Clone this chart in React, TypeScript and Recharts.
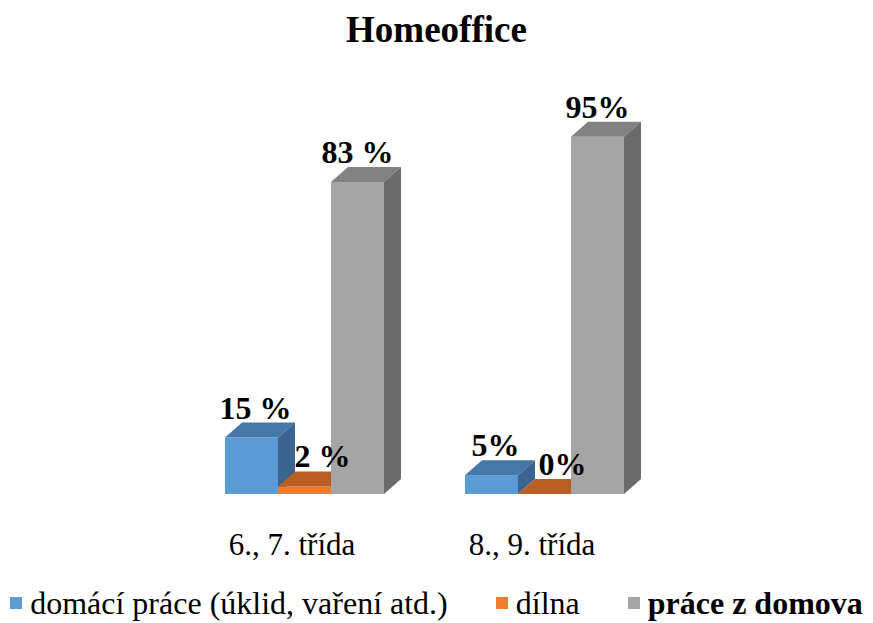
import React from 'react';
import { BarChart, Bar, XAxis, YAxis, Legend, LabelList } from 'recharts';

// values
const CATEGORIES = ['6., 7. třída', '8., 9. třída'];
const DOMACI_PRACE = [15, 5];
const DILNA = [2, 0];
const PRACE_Z_DOMOVA = [83, 95];
// the labels are not formatted the same in both groups, so keep them as text
const DOMACI_PRACE_LABELS = ['15 %', '5%'];
const DILNA_LABELS = ['2 %', '0%'];
const PRACE_Z_DOMOVA_LABELS = ['83 %', '95%'];

const SERIES = [
  { key: 'domaci', label: 'domaciLabel', name: 'domácí práce (úklid, vaření atd.)', front: '#5B9BD5', top: '#4677A9', side: '#3A6591', bold: false, shift: 4 },
  { key: 'dilna', label: 'dilnaLabel', name: 'dílna', front: '#ED7D31', top: '#BA5F24', side: '#A4531F', bold: false, shift: 18 },
  { key: 'domova', label: 'domovaLabel', name: 'práce z domova', front: '#A5A5A5', top: '#828282', side: '#6B6B6B', bold: true, shift: 0 },
];

const data = CATEGORIES.map((name, i) => ({
  name,
  domaci: DOMACI_PRACE[i],
  dilna: DILNA[i],
  domova: PRACE_Z_DOMOVA[i],
  domaciLabel: DOMACI_PRACE_LABELS[i],
  dilnaLabel: DILNA_LABELS[i],
  domovaLabel: PRACE_Z_DOMOVA_LABELS[i],
}));

const FONT = '"Liberation Serif", "Times New Roman", serif';
const DX = 17;
const DY = 15;

const box3d = (front: string, top: string, side: string) => (props: any) => {
  const { x, y, width, height } = props;
  if (x == null || y == null) return null;
  const h = Math.max(height || 0, 0);
  return (
    <g>
      <rect x={x} y={y} width={width} height={h} fill={front} />
      <polygon
        points={`${x},${y} ${x + DX},${y - DY} ${x + width + DX},${y - DY} ${x + width},${y}`}
        fill={top}
      />
      <polygon
        points={`${x + width},${y} ${x + width + DX},${y - DY} ${x + width + DX},${y + h - DY} ${x + width},${y + h}`}
        fill={side}
      />
    </g>
  );
};

const barLabel = (shift: number) => (props: any) => {
  const { x, y, width, value } = props;
  return (
    <text
      x={x + width / 2 + shift}
      y={y - 19}
      textAnchor="middle"
      fontFamily={FONT}
      fontWeight="bold"
      fontSize={32}
      fill="#000"
    >
      {value}
    </text>
  );
};

const CategoryTick = (props: any) => {
  const { x, y, payload } = props;
  return (
    <text x={x - 13} y={y} dy={53} textAnchor="middle" fontFamily={FONT} fontSize={31} fill="#000">
      {payload.value}
    </text>
  );
};

const renderLegend = () => (
  <div
    style={{
      display: 'flex',
      justifyContent: 'center',
      alignItems: 'center',
      fontFamily: FONT,
      fontSize: 32,
      lineHeight: '34px',
      color: '#000',
      height: 34,
    }}
  >
    {SERIES.map((s, i) => (
      <div key={s.key} style={{ display: 'flex', alignItems: 'center', marginLeft: i === 0 ? 0 : 48 }}>
        <span style={{ display: 'inline-block', width: 12, height: 12, background: s.front, marginRight: 8 }} />
        <span style={{ fontWeight: s.bold ? 700 : 400, whiteSpace: 'nowrap' }}>{s.name}</span>
      </div>
    ))}
  </div>
);

export default function App() {
  return (
    <div style={{ position: 'absolute', left: 0, top: 0, width: 873, height: 623, background: '#fff' }}>
      <div
        style={{
          position: 'absolute',
          top: 11,
          left: 0,
          width: 873,
          textAlign: 'center',
          fontFamily: FONT,
          fontWeight: 'bold',
          fontSize: 37,
          lineHeight: '37px',
        }}
      >
        Homeoffice
      </div>
      <BarChart
        width={873}
        height={623}
        data={data}
        margin={{ top: 118, right: 208, bottom: 35, left: 185 }}
        barCategoryGap={40}
        barGap={0}
      >
        <XAxis dataKey="name" axisLine={false} tickLine={false} height={60} tick={<CategoryTick />} interval={0} />
        <YAxis hide domain={[0, 100]} />
        <Legend
          verticalAlign="bottom"
          content={renderLegend}
          wrapperStyle={{ left: 0, top: 586, width: 873 }}
        />
        {SERIES.map((s) => (
          <Bar
            key={s.key}
            dataKey={s.key}
            name={s.name}
            fill={s.front}
            shape={box3d(s.front, s.top, s.side)}
            isAnimationActive={false}
          >
            <LabelList dataKey={s.label} content={barLabel(s.shift)} />
          </Bar>
        ))}
      </BarChart>
    </div>
  );
}
